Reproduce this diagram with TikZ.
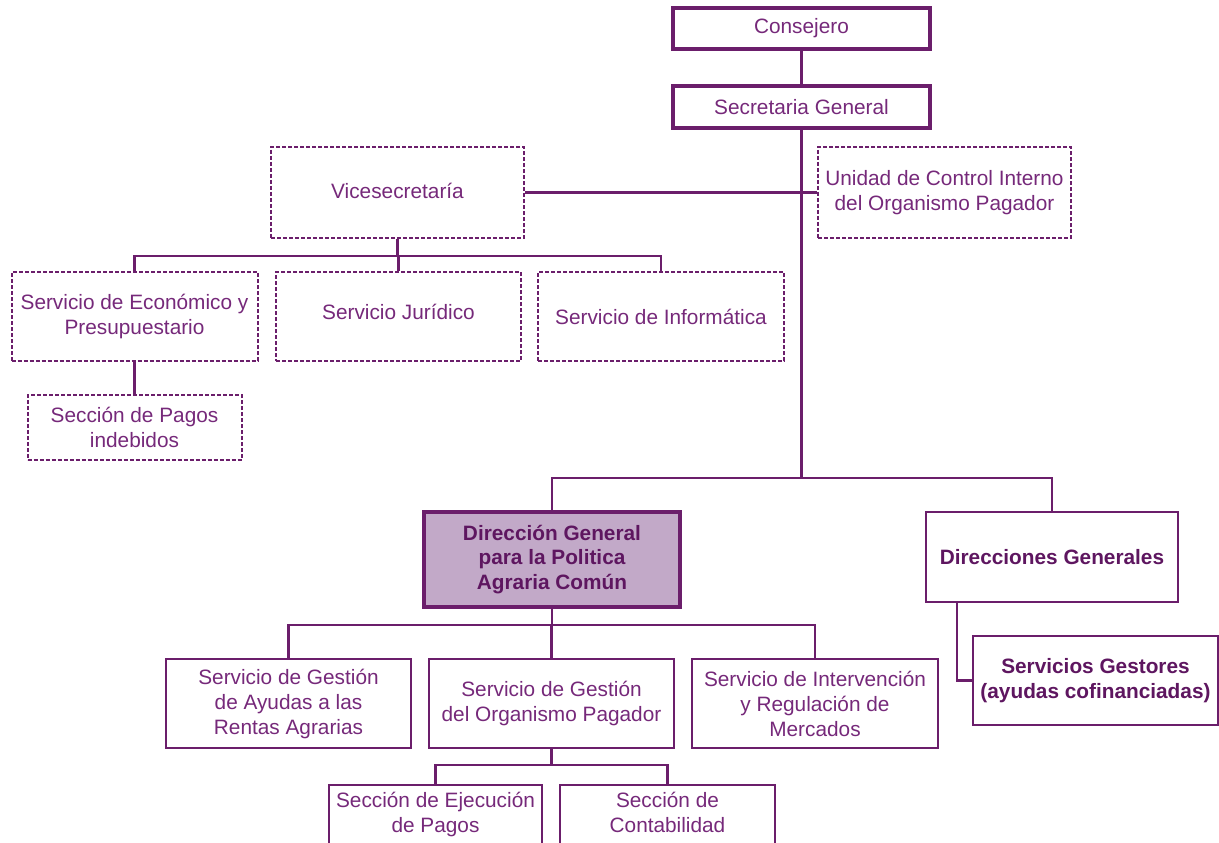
\documentclass[tikz,border=0pt]{standalone}
\usepackage{fontspec}
\setmainfont{Liberation Sans}
\definecolor{pur}{HTML}{6B1E6B}
\definecolor{txt}{HTML}{76297A}
\definecolor{btxt}{HTML}{5E1660}
\definecolor{dgfill}{HTML}{C2A9C8}
\begin{document}
\begin{tikzpicture}[x=1pt,y=-1pt,
  box/.style={draw=pur, line width=2pt, align=center, inner sep=0pt, text=txt,
    font=\fontsize{20.8}{25}\selectfont, minimum width=#1},
  box/.default=245pt,
  thickbox/.style={box=#1, line width=4.3pt},
  dashbox/.style={box=#1, dash pattern=on 4pt off 2pt},
  conn/.style={draw=pur, line width=2.2pt},
  boldtext/.style={font=\fontsize{20.8}{24.5}\selectfont\bfseries, text=btxt}]
\useasboundingbox (0,0) rectangle (1219,843);
\clip (0,0) rectangle (1219,843);
\fill[white] (0,0) rectangle (1219,843);

% top
\node[thickbox=257pt, minimum height=41pt] (cons) at (801.5,28.5) {Consejero};
\node[thickbox=257pt, minimum height=42pt] (sg) at (801.5,107) {Secretaria General};

% dashed
\node[dashbox=253pt, minimum height=91pt] (vice) at (397.5,192.5) {\raisebox{4pt}{Vicesecretaría}};
\node[dashbox=253pt, minimum height=91pt] (ucio) at (944.5,192.5) {Unidad de Control Interno\\del Organismo Pagador};
\node[dashbox=246pt, minimum height=89pt] (eco) at (134.5,316.5) {Servicio de Económico y\\Presupuestario};
\node[dashbox=245pt, minimum height=89pt] (jur) at (398.5,316.5) {\raisebox{10pt}{Servicio Jurídico}};
\node[dashbox=246pt, minimum height=89pt] (inf) at (661,316.5) {Servicio de Informática};
\node[dashbox=214pt, minimum height=65pt] (pag) at (134.5,427.5) {Sección de Pagos\\indebidos};

% lower
\node[thickbox=256pt, minimum height=95pt, fill=dgfill, boldtext] (dg) at (552,559.5) {Dirección General\\para la Politica\\Agraria Común};
\node[box=252pt, minimum height=90pt, boldtext] (dirs) at (1052,557) {Direcciones Generales};
\node[box=245pt, minimum height=89pt, boldtext] (sgest) at (1095.5,680.5) {Servicios Gestores\\(ayudas cofinanciadas)};

\node[box=245pt, minimum height=89pt] (sga) at (288.5,703.5) {Servicio de Gestión\\de Ayudas a las\\Rentas Agrarias};
\node[box=245pt, minimum height=89pt] (sgop) at (551.5,703.5) {\raisebox{6pt}{\begin{tabular}{@{}c@{}}Servicio de Gestión\\del Organismo Pagador\end{tabular}}};
\node[box=246pt, minimum height=89pt] (sint) at (815,703.5) {Servicio de Intervención\\y Regulación de\\Mercados};

\node[box=213pt, minimum height=88pt] (sej) at (435.5,829) {Sección de Ejecución\\de Pagos\\\strut};
\node[box=215pt, minimum height=88pt] (scon) at (667.5,829) {Sección de\\Contabilidad\\\strut};

% connectors
\draw[conn] (cons.south) -- (sg.north);
\coordinate (j1) at (801.5,478);
\draw[conn] (sg.south) -- (j1);
\draw[conn] (dg.north) -- (dg.north |- j1) -- (dirs.north |- j1) -- (dirs.north);
\draw[conn] (vice.east) -- (ucio.west);
\coordinate (j2) at (397.5,256);
\draw[conn] (vice.south) -- (j2);
\draw[conn] (eco.north) -- (eco.north |- j2) -- (inf.north |- j2) -- (inf.north);
\draw[conn] (jur.north |- j2) -- (jur.north);
\draw[conn] (eco.south) -- (pag.north);
\coordinate (j3) at (957,602);
\draw[conn] (j3) |- (sgest.west);
\coordinate (j4) at (552,625);
\draw[conn] (dg.south) -- (j4);
\draw[conn] (sga.north) -- (sga.north |- j4) -- (sint.north |- j4) -- (sint.north);
\draw[conn] (sgop.north |- j4) -- (sgop.north);
\coordinate (j5) at (551.5,765);
\draw[conn] (sgop.south) -- (j5);
\draw[conn] (sej.north) -- (sej.north |- j5) -- (scon.north |- j5) -- (scon.north);
\end{tikzpicture}
\end{document}
